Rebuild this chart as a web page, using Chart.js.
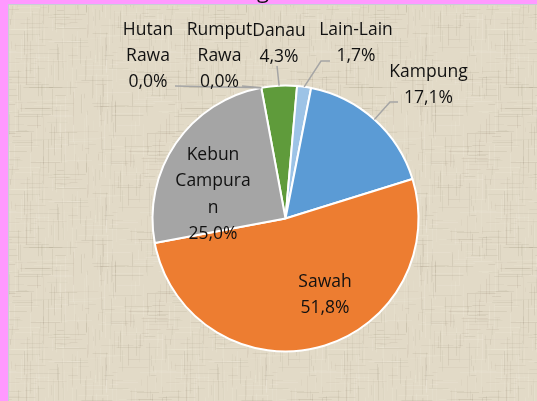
<!DOCTYPE html>
<html>
<head>
<meta charset="utf-8">
<script src="https://cdn.jsdelivr.net/npm/chart.js@4.4.1/dist/chart.umd.min.js"></script>
<style>
html, body { margin:0; padding:0; width:537px; height:401px; overflow:hidden; background:#ff99ff; }
#bg { position:absolute; left:8px; top:4px; width:528px; height:396px;
      border-left:1px solid #c7cfd6; border-top:1px solid #c7cfd6; background-color:#e0d8c4; }
#chart { position:absolute; left:0; top:0; }
</style>
</head>
<body>
<div id="bg"></div>
<canvas id="chart" width="537" height="401"></canvas>
<script>
// data
const kategori = ['Hutan Rawa', 'Rumput Rawa', 'Danau', 'Lain-Lain', 'Kampung', 'Sawah', 'Kebun Campuran'];
const persen = [0.0, 0.0, 4.3, 1.7, 17.1, 51.8, 25.0];
const warna = ['#4472c4', '#ffc000', '#5f9b3b', '#9dc3e6', '#5b9bd5', '#ed7d31', '#a5a5a5'];
// label text as excel wrapped it
const labelBaris = [['Hutan', 'Rawa'], ['Rumput', 'Rawa'], ['Danau'], ['Lain-Lain'], ['Kampung'], ['Sawah'], ['Kebun', 'Campura', 'n']];

// where each label sits (centre x, first baseline) and leader line start points
const tataLetak = [
    { x: 148, y: 34.5, garis: [[175, 86]] },
    { x: 219.5, y: 34.5, garis: [[242, 86]] },
    { x: 279, y: 36, garis: [[277, 66]] },
    { x: 356, y: 34.5, garis: [[330, 61], [321, 61]] },
    { x: 428.5, y: 76.5, garis: [[398, 102], [390, 102]] },
    { x: 325, y: 287, garis: null },
    { x: 213, y: 160, garis: null }
];
const jarakBaris = 26.4;

// linen texture for the background
function linen() {
    const c = document.createElement('canvas');
    c.width = 160; c.height = 160;
    const g = c.getContext('2d');
    g.fillStyle = '#e2dac7';
    g.fillRect(0, 0, 160, 160);
    let s = 11;
    const acak = () => (s = (s * 9301 + 49297) % 233280) / 233280;
    for (let i = 0; i < 260; i++) {
        const a = 0.03 + acak() * 0.07;
        g.fillStyle = acak() < 0.6 ? `rgba(110,95,70,${a})` : `rgba(255,251,240,${a * 1.5})`;
        const x = Math.floor(acak() * 160);
        const y0 = acak() * 160, h = 4 + acak() * 30;
        g.fillRect(x, y0, 1, h);
        g.fillRect(x, y0 - 160, 1, h);
    }
    for (let i = 0; i < 220; i++) {
        const a = 0.03 + acak() * 0.07;
        g.fillStyle = acak() < 0.6 ? `rgba(110,95,70,${a})` : `rgba(255,251,240,${a * 1.5})`;
        const y = Math.floor(acak() * 160);
        const x0 = acak() * 160, w = 4 + acak() * 30;
        g.fillRect(x0, y, w, 1);
        g.fillRect(x0 - 160, y, w, 1);
    }
    document.getElementById('bg').style.backgroundImage = `url(${c.toDataURL()})`;
}
linen();

const labelPlugin = {
    id: 'labelData',
    afterDatasetsDraw(chart) {
        const ctx = chart.ctx;
        const arcs = chart.getDatasetMeta(0).data;
        ctx.save();

        // garis penunjuk
        ctx.strokeStyle = '#a5a5a5';
        ctx.lineWidth = 1.5;
        arcs.forEach((arc, i) => {
            const t = tataLetak[i];
            if (!t.garis) return;
            const p = arc.getProps(['x', 'y', 'startAngle', 'endAngle', 'outerRadius']);
            const mid = (p.startAngle + p.endAngle) / 2;
            const ex = p.x + Math.cos(mid) * p.outerRadius;
            const ey = p.y + Math.sin(mid) * p.outerRadius;
            ctx.beginPath();
            ctx.moveTo(t.garis[0][0], t.garis[0][1]);
            for (let k = 1; k < t.garis.length; k++) ctx.lineTo(t.garis[k][0], t.garis[k][1]);
            ctx.lineTo(ex, ey);
            ctx.stroke();
        });

        // teks label
        ctx.font = '17.5px "Open Sans"';
        ctx.fillStyle = '#111111';
        ctx.textAlign = 'center';
        ctx.textBaseline = 'alphabetic';
        arcs.forEach((arc, i) => {
            const t = tataLetak[i];
            const baris = labelBaris[i].concat([persen[i].toFixed(1).replace('.', ',') + '%']);
            baris.forEach((b, k) => ctx.fillText(b, t.x, t.y + k * jarakBaris));
        });

        // judul, hanya ekor huruf yang terlihat
        ctx.font = '22px "Open Sans"';
        ctx.fillText('g', 263, -2.5);
        ctx.restore();
    }
};

new Chart(document.getElementById('chart'), {
    type: 'pie',
    data: {
        labels: kategori,
        datasets: [{
            data: persen,
            backgroundColor: warna,
            borderColor: '#ffffff',
            borderWidth: 2
        }]
    },
    options: {
        responsive: false,
        animation: false,
        events: [],
        rotation: -10.5,
        radius: 133,
        layout: { padding: { left: 151, right: 117, top: 84, bottom: 48 } },
        plugins: { legend: { display: false }, tooltip: { enabled: false }, title: { display: false } }
    },
    plugins: [labelPlugin]
});
</script>
</body>
</html>
